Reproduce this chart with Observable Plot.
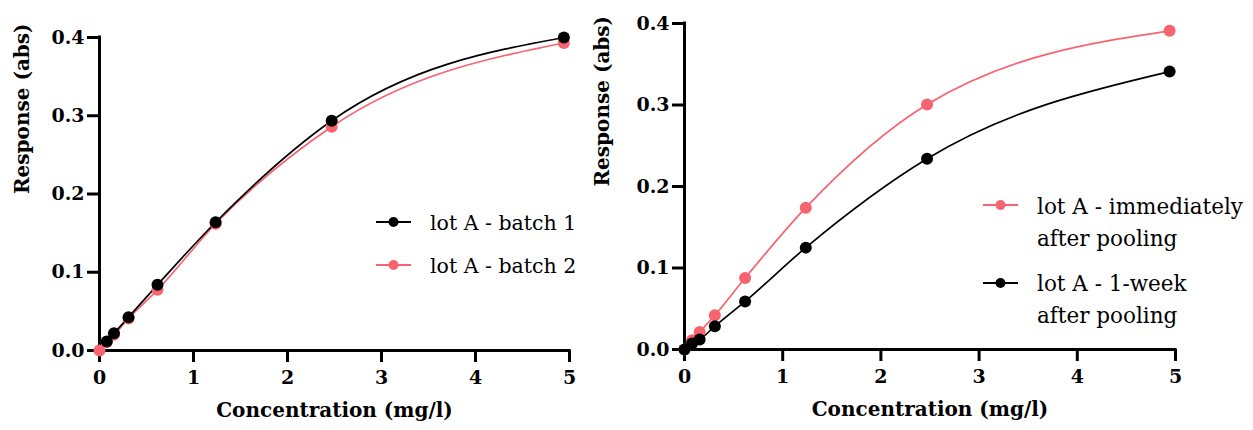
<!DOCTYPE html>
<html>
<head>
<meta charset="utf-8">
<script src="https://cdn.jsdelivr.net/npm/d3@7"></script>
<script src="https://cdn.jsdelivr.net/npm/@observablehq/plot@0.6"></script>
<style>
  html, body { margin: 0; padding: 0; background: #fff; }
  #wrap { position: relative; width: 1253px; height: 430px; overflow: hidden; }
  #wrap > svg, #wrap > figure { position: absolute; top: 0; margin: 0; }
</style>
</head>
<body>
<div id="wrap"></div>
<script>
// ---------- data ----------
const xTicks = [0, 1, 2, 3, 4, 5];
const yTicks = [0, 0.1, 0.2, 0.3, 0.4];
const xTitle = "Concentration (mg/l)";
const yTitle = "Response (abs)";

// left panel
const leftNames = ["lot A - batch 1", "lot A - batch 2"];
const batch1Conc = [0.077, 0.154, 0.309, 0.617, 1.235, 2.47, 4.94];
const batch1Resp = [0.0115, 0.022, 0.0426, 0.0839, 0.1639, 0.2937, 0.400];
const batch2Conc = [0, 0.077, 0.154, 0.309, 0.617, 1.235, 2.47, 4.94];
const batch2Resp = [0, 0.011, 0.020, 0.041, 0.0775, 0.162, 0.286, 0.393];

// right panel
const rightNames = [["lot A - immediately", "after pooling"], ["lot A - 1-week", "after pooling"]];
const immConc = [0, 0.077, 0.154, 0.309, 0.617, 1.235, 2.47, 4.94];
const immResp = [0, 0.0114, 0.0215, 0.042, 0.0877, 0.174, 0.3007, 0.391];
const weekConc = [0, 0.077, 0.154, 0.309, 0.617, 1.235, 2.47, 4.94];
const weekResp = [0, 0.0073, 0.0122, 0.0285, 0.059, 0.125, 0.234, 0.341];

// ---------- styles ----------
const FONT = "'DejaVu Serif', 'Liberation Serif', serif";
const PINK = "#f7636e";
const BLACK = "#000000";

const rows = (xs, ys) => xs.map((x, i) => ({x, y: ys[i]}));

function panel({width, marginLeft, marginRight, marginTop, marginBottom, series, yTitleDx}) {
  const marks = [
    Plot.axisY({ticks: yTicks, tickFormat: d3.format(".1f"), tickSize: 12, tickPadding: 3,
      strokeWidth: 3, fontSize: 19, fontWeight: "bold", label: null}),
    Plot.axisX({ticks: xTicks, tickFormat: d3.format("d"), tickSize: 12, tickPadding: 8,
      strokeWidth: 3, fontSize: 19, fontWeight: "bold", label: null}),
    Plot.ruleY([0], {stroke: BLACK, strokeWidth: 3, strokeLinecap: "square"}),
    Plot.ruleX([0], {stroke: BLACK, strokeWidth: 3, strokeLinecap: "square"})
  ];
  for (const s of series) {
    marks.push(Plot.line(s.data, {x: "x", y: "y", stroke: s.color, strokeWidth: 1.7, curve: "monotone-x"}));
  }
  for (const s of series) {
    marks.push(Plot.dot(s.data, {x: "x", y: "y", r: 6, fill: s.color, stroke: "none"}));
  }
  marks.push(Plot.text([xTitle], {frameAnchor: "bottom", dy: 66, fontSize: 20, fontWeight: "bold", fill: BLACK}));
  marks.push(Plot.text([yTitle], {frameAnchor: "left", dx: yTitleDx, rotate: -90, fontSize: 20, fontWeight: "bold", fill: BLACK}));
  return Plot.plot({
    width, height: 430, marginLeft, marginRight, marginTop, marginBottom,
    x: {domain: [0, 5]},
    y: {domain: [0, 0.4]},
    style: {fontFamily: FONT, background: "transparent", overflow: "visible", color: BLACK},
    marks
  });
}

const wrap = document.getElementById("wrap");

const left = panel({
  width: 600, marginLeft: 99, marginRight: 31, marginTop: 37, marginBottom: 80, yTitleDx: -77,
  series: [
    {data: rows(batch2Conc, batch2Resp), color: PINK},
    {data: rows(batch1Conc, batch1Resp), color: BLACK}
  ]
});
left.style.left = "0px";
wrap.appendChild(left);

const right = panel({
  width: 653, marginLeft: 84, marginRight: 78, marginTop: 23, marginBottom: 81, yTitleDx: -82,
  series: [
    {data: rows(immConc, immResp), color: PINK},
    {data: rows(weekConc, weekResp), color: BLACK}
  ]
});
right.style.left = "600px";
wrap.appendChild(right);

// ---------- legends (overlay) ----------
const ov = d3.select(wrap).append("svg")
  .attr("width", 1253).attr("height", 430)
  .style("left", "0px").style("pointer-events", "none")
  .style("font-family", FONT);

function legendItem({x, yLine, baselines, lines, color, size}) {
  const g = ov.append("g");
  g.append("line").attr("x1", x).attr("x2", x + 35).attr("y1", yLine).attr("y2", yLine)
    .attr("stroke", color).attr("stroke-width", 2);
  g.append("circle").attr("cx", x + 17.5).attr("cy", yLine).attr("r", 5).attr("fill", color);
  lines.forEach((t, i) => {
    g.append("text").attr("x", x + 54).attr("y", baselines[i])
      .attr("font-size", size).attr("fill", BLACK).text(t);
  });
}

legendItem({x: 376, yLine: 222, baselines: [230], lines: [leftNames[0]], color: BLACK, size: 20.5});
legendItem({x: 376, yLine: 265, baselines: [273], lines: [leftNames[1]], color: PINK, size: 20.5});
legendItem({x: 983, yLine: 205, baselines: [214, 246], lines: rightNames[0], color: PINK, size: 21.5});
legendItem({x: 983, yLine: 283, baselines: [291, 323], lines: rightNames[1], color: BLACK, size: 21.5});
</script>
</body>
</html>
